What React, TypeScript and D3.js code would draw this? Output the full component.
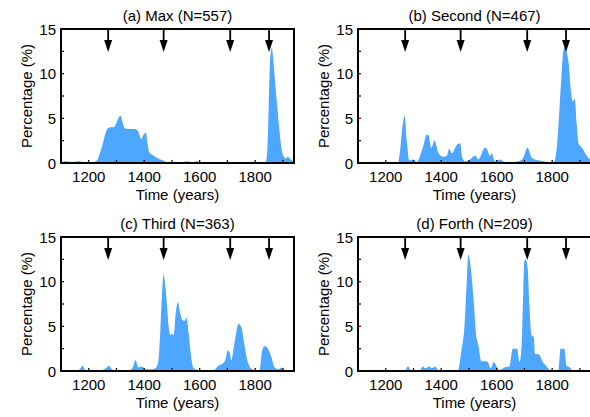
import React from "react";
import * as d3 from "d3";

// [year, percentage]
const maxSeries: [number, number][] = [
  [1100, 0.1], [1120, 0.2], [1140, 0.05], [1160, 0.2], [1180, 0.1], [1200, 0.05],
  [1220, 0.1], [1230, 0.3], [1240, 1.1], [1251, 2.2], [1260, 3.3], [1269, 3.9],
  [1280, 4.0], [1290, 4.0], [1300, 4.5], [1308, 5.1], [1315, 5.3], [1322, 4.6],
  [1330, 3.9], [1345, 3.8], [1365, 3.8], [1377, 3.6], [1389, 2.7], [1398, 3.2],
  [1406, 3.4], [1412, 2.2], [1418, 1.2], [1430, 0.9], [1445, 0.6], [1467, 0.3],
  [1480, 0.1], [1500, 0.05], [1530, 0.05], [1555, 0.2], [1572, 0.1], [1590, 0.2],
  [1610, 0.05], [1700, 0.0], [1800, 0.0], [1838, 0.05], [1844, 1.5], [1849, 6.5],
  [1854, 11.5], [1860, 12.9], [1866, 11.3], [1872, 9.0], [1880, 6.2], [1888, 3.5],
  [1895, 1.6], [1902, 0.8], [1910, 0.5], [1918, 0.7], [1925, 0.5], [1932, 0.3],
  [1940, 0.1],
];

const secondSeries: [number, number][] = [
  [1100, 0.0], [1200, 0.0], [1244, 0.0], [1252, 1.5], [1260, 4.0], [1268, 5.3],
  [1276, 2.5], [1285, 0.3], [1300, 0.4], [1312, 0.1], [1324, 0.8], [1336, 2.0],
  [1348, 3.2], [1354, 3.1], [1364, 1.7], [1376, 2.5], [1390, 1.1], [1408, 0.7],
  [1420, 0.8], [1429, 1.6], [1438, 1.1], [1456, 2.0], [1468, 2.2], [1476, 0.6],
  [1486, 0.2], [1504, 0.4], [1522, 0.8], [1534, 0.4], [1558, 1.7], [1564, 1.6],
  [1576, 0.8], [1582, 1.1], [1594, 0.2], [1612, 0.4], [1630, 0.1], [1654, 0.1],
  [1678, 0.2], [1696, 0.6], [1711, 1.7], [1726, 0.6], [1750, 0.3], [1768, 0.2],
  [1786, 0.1], [1806, 0.1], [1814, 1.0], [1822, 3.8], [1832, 9.0], [1840, 12.5],
  [1847, 13.0], [1854, 12.2], [1860, 11.0], [1868, 8.0], [1874, 6.9], [1882, 7.2],
  [1888, 4.5], [1896, 2.1], [1908, 1.7], [1920, 1.0], [1930, 0.6], [1940, 0.4],
];

const thirdSeries: [number, number][] = [
  [1100, 0.0], [1160, 0.0], [1170, 0.3], [1178, 0.6], [1188, 0.1], [1230, 0.0],
  [1262, 0.3], [1272, 0.6], [1284, 0.2], [1296, 0.0], [1350, 0.1], [1360, 0.5],
  [1368, 1.2], [1380, 0.4], [1392, 0.5], [1404, 0.2], [1428, 0.2], [1440, 0.3],
  [1450, 0.9], [1458, 4.5], [1464, 8.5], [1470, 10.8], [1476, 9.5], [1482, 7.4],
  [1488, 5.0], [1494, 4.0], [1500, 4.2], [1506, 4.0], [1514, 6.6], [1522, 7.7],
  [1530, 6.4], [1538, 5.7], [1546, 5.6], [1552, 6.0], [1560, 4.3], [1570, 1.4],
  [1578, 0.3], [1596, 0.1], [1620, 0.0], [1650, 0.1], [1668, 0.6], [1686, 0.9],
  [1692, 1.2], [1702, 2.3], [1708, 2.1], [1714, 1.2], [1722, 2.5], [1730, 4.0],
  [1740, 5.3], [1750, 4.9], [1760, 3.2], [1770, 1.4], [1782, 0.4], [1800, 0.1],
  [1816, 0.1], [1824, 2.1], [1834, 2.8], [1846, 2.5], [1858, 1.6], [1870, 0.4],
  [1884, 0.2], [1894, 0.4], [1908, 0.1], [1940, 0.0],
];

const forthSeries: [number, number][] = [
  [1100, 0.0], [1268, 0.0], [1280, 0.5], [1292, 0.05], [1322, 0.05], [1334, 0.5],
  [1342, 0.3], [1358, 0.5], [1366, 0.3], [1378, 0.5], [1388, 0.1], [1400, 0.0],
  [1460, 0.0], [1472, 2.1], [1484, 5.1], [1492, 10.0], [1498, 13.0], [1508, 11.1],
  [1518, 7.4], [1526, 4.0], [1534, 2.9], [1544, 1.1], [1558, 1.1], [1568, 1.0],
  [1578, 0.3], [1590, 1.0], [1598, 0.6], [1610, 0.1], [1628, 0.4], [1646, 0.5],
  [1658, 2.5], [1674, 2.5], [1682, 1.0], [1690, 2.9], [1696, 9.0], [1700, 12.4],
  [1704, 12.5], [1712, 11.4], [1718, 7.4], [1726, 4.0], [1734, 3.8], [1738, 1.9],
  [1748, 1.9], [1758, 1.6], [1766, 1.0], [1778, 0.6], [1792, 0.1], [1822, 0.0],
  [1830, 2.5], [1844, 2.5], [1852, 0.6], [1864, 0.4], [1872, 0.1], [1940, 0.0],
];

const titles = ["(a) Max (N=557)", "(b) Second (N=467)", "(c) Third (N=363)", "(d) Forth (N=209)"];
const arrowYears = [1270, 1470, 1710, 1850];
const xTickValues = [1200, 1300, 1400, 1500, 1600, 1700, 1800, 1900];
const xTickLabels = [1200, 1400, 1600, 1800];
const yTickValues = [0, 2.5, 5, 7.5, 10, 12.5, 15];
const yTickLabels = [0, 5, 10, 15];

const seriesList = [maxSeries, secondSeries, thirdSeries, forthSeries];

const W = 590;
const H = 417;
const pw = 233;
const ph = 134;
const lefts = [61, 358];
const tops = [29, 237];
const font = "'Liberation Sans', Arial, sans-serif";
const fill = "#4da6ff";

const Panel = ({ data, title, left, top }) => {
  const x = d3.scaleLinear().domain([1100, 1940]).range([0, pw]);
  const y = d3.scaleLinear().domain([0, 15]).range([ph, 0]);
  const area = d3
    .area<[number, number]>()
    .x((d) => x(d[0]))
    .y0(ph)
    .y1((d) => y(d[1]))
    .curve(d3.curveMonotoneX);

  return (
    <g transform={`translate(${left},${top})`} fontFamily={font} fontSize={15}>
      <text x={pw / 2} y={-8} textAnchor="middle">{title}</text>
      <path d={area(data)} fill={fill} />
      {xTickValues.map((t) => (
        <line key={t} x1={x(t)} x2={x(t)} y1={ph} y2={ph - 3} stroke="#000" strokeWidth={1.2} />
      ))}
      {yTickValues.map((t) => (
        <line key={t} x1={0} x2={3} y1={y(t)} y2={y(t)} stroke="#000" strokeWidth={1.2} />
      ))}
      <rect x={0} y={0} width={pw} height={ph} fill="none" stroke="#000" strokeWidth={2} />
      {arrowYears.map((a) => (
        <g key={a}>
          <line x1={x(a)} x2={x(a)} y1={0} y2={13} stroke="#000" strokeWidth={1.8} />
          <path d={`M${x(a) - 4},11 L${x(a) + 4},11 L${x(a)},23 Z`} fill="#000" />
        </g>
      ))}
      {xTickLabels.map((t) => (
        <text key={t} x={x(t)} y={ph + 19} textAnchor="middle">{t}</text>
      ))}
      {yTickLabels.map((t) => (
        <text key={t} x={-5} y={y(t) + 5.5} textAnchor="end">{t}</text>
      ))}
      <text x={pw / 2} y={ph + 37} textAnchor="middle">Time (years)</text>
      <text transform={`translate(-29,${ph / 2}) rotate(-90)`} textAnchor="middle">Percentage (%)</text>
    </g>
  );
};

export default function App() {
  return (
    <svg width={W} height={H} style={{ position: "absolute", left: 0, top: 0, background: "#fff" }}>
      {seriesList.map((s, i) => (
        <Panel key={i} data={s} title={titles[i]} left={lefts[i % 2]} top={tops[Math.floor(i / 2)]} />
      ))}
    </svg>
  );
}
